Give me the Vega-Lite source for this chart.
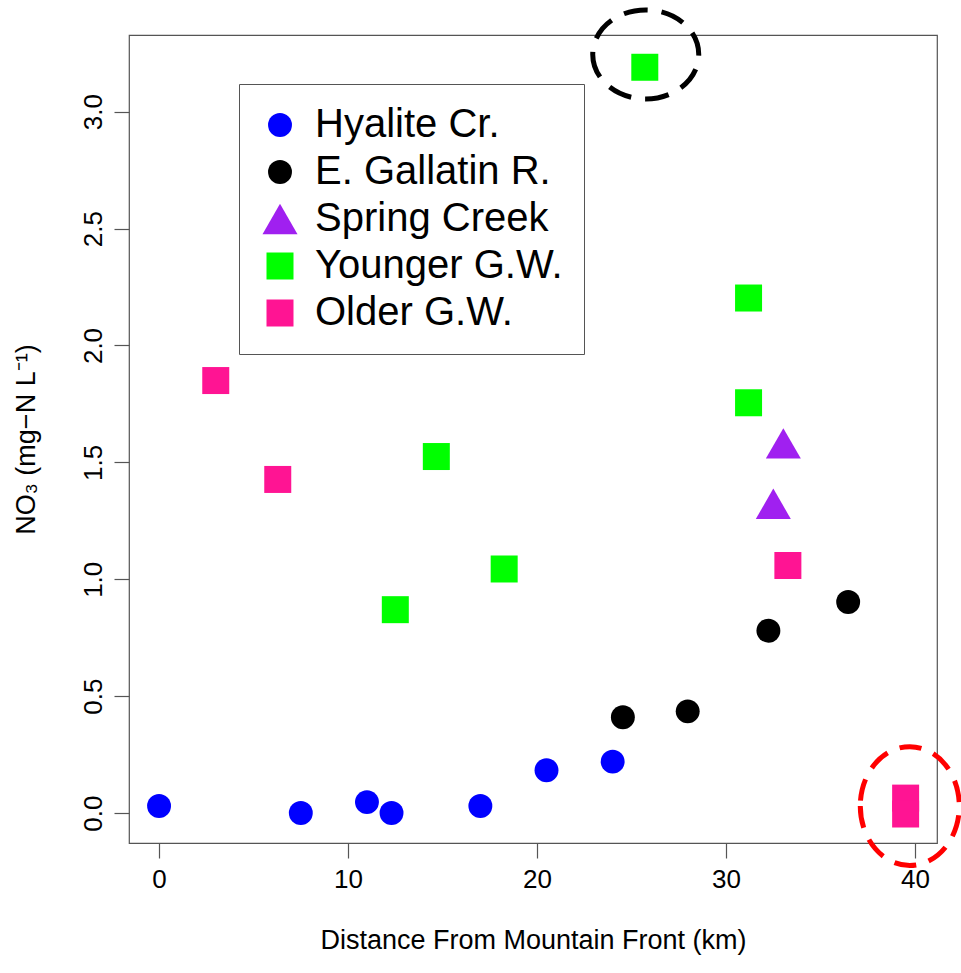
{
  "$schema": "https://vega.github.io/schema/vega-lite/v6.json",
  "width": 808,
  "height": 808,
  "autosize": {"type": "none"},
  "padding": {"left": 129, "top": 35, "right": 24, "bottom": 130},
  "background": "white",
  "config": {
    "view": {"stroke": "#555", "strokeWidth": 1.2},
    "font": "Liberation Sans"
  },
  "layer": [
    {
      "data": {
        "values": [
          {"site": "Hyalite Cr.", "distance_km": 0.0, "no3": 0.03},
          {"site": "Hyalite Cr.", "distance_km": 7.5, "no3": 0.0},
          {"site": "Hyalite Cr.", "distance_km": 11.0, "no3": 0.047},
          {"site": "Hyalite Cr.", "distance_km": 12.3, "no3": 0.0},
          {"site": "Hyalite Cr.", "distance_km": 17.0, "no3": 0.03},
          {"site": "Hyalite Cr.", "distance_km": 20.5, "no3": 0.183},
          {"site": "Hyalite Cr.", "distance_km": 24.0, "no3": 0.22},
          {"site": "E. Gallatin R.", "distance_km": 24.54, "no3": 0.41},
          {"site": "E. Gallatin R.", "distance_km": 27.97, "no3": 0.435},
          {"site": "E. Gallatin R.", "distance_km": 32.24, "no3": 0.78},
          {"site": "E. Gallatin R.", "distance_km": 36.46, "no3": 0.903},
          {"site": "Spring Creek", "distance_km": 33.03, "no3": 1.581},
          {"site": "Spring Creek", "distance_km": 32.5, "no3": 1.323},
          {"site": "Younger G.W.", "distance_km": 25.7, "no3": 3.19},
          {"site": "Younger G.W.", "distance_km": 12.5, "no3": 0.87},
          {"site": "Younger G.W.", "distance_km": 14.67, "no3": 1.525},
          {"site": "Younger G.W.", "distance_km": 18.26, "no3": 1.044},
          {"site": "Younger G.W.", "distance_km": 31.19, "no3": 2.203},
          {"site": "Younger G.W.", "distance_km": 31.19, "no3": 1.755},
          {"site": "Older G.W.", "distance_km": 3.0, "no3": 1.85},
          {"site": "Older G.W.", "distance_km": 6.28, "no3": 1.427},
          {"site": "Older G.W.", "distance_km": 33.27, "no3": 1.059},
          {"site": "Older G.W.", "distance_km": 39.5, "no3": 0.064},
          {"site": "Older G.W.", "distance_km": 39.5, "no3": -0.004}
        ]
      },
      "mark": {"type": "point", "filled": true, "opacity": 1, "strokeWidth": 0},
      "encoding": {
        "x": {
          "field": "distance_km",
          "type": "quantitative",
          "scale": {"domain": [-1.59, 41.16], "nice": false, "zero": false},
          "axis": {
            "values": [0, 10, 20, 30, 40],
            "title": "Distance From Mountain Front (km)",
            "domain": false,
            "grid": false,
            "tickSize": 15,
            "tickColor": "#555",
            "tickWidth": 1.2,
            "labelFontSize": 26,
            "labelColor": "black",
            "labelPadding": 8,
            "titleFontSize": 27,
            "titleFontWeight": "normal",
            "titleColor": "black",
            "titlePadding": 35
          }
        },
        "y": {
          "field": "no3",
          "type": "quantitative",
          "scale": {"domain": [-0.128, 3.328], "nice": false, "zero": false},
          "axis": {
            "values": [0, 0.5, 1, 1.5, 2, 2.5, 3],
            "format": ".1f",
            "title": "NO₃ (mg−N L⁻¹)",
            "domain": false,
            "grid": false,
            "tickSize": 15,
            "tickColor": "#555",
            "tickWidth": 1.2,
            "labelFontSize": 26,
            "labelColor": "black",
            "labelAngle": -90,
            "labelAlign": "center",
            "labelBaseline": "alphabetic",
            "labelPadding": 13,
            "titleFontSize": 27,
            "titleFontWeight": "normal",
            "titleColor": "black",
            "titlePadding": 40
          }
        },
        "color": {
          "field": "site",
          "type": "nominal",
          "scale": {
            "domain": ["Hyalite Cr.", "E. Gallatin R.", "Spring Creek", "Younger G.W.", "Older G.W."],
            "range": ["#0000FF", "#000000", "#A020F0", "#00FF00", "#FF1493"]
          },
          "legend": {
            "title": null,
            "orient": "none",
            "legendX": 110,
            "legendY": 49,
            "labelFontSize": 40,
            "labelFont": "Liberation Sans",
            "labelColor": "black",
            "labelLimit": 500,
            "strokeColor": "#555",
            "fillColor": "white",
            "padding": 21,
            "rowPadding": 7,
            "labelOffset": 15,
            "symbolStrokeWidth": 0,
            "symbolOpacity": 1,
            "encode": {
              "symbols": {
                "update": {
                  "size": {"signal": "datum.value === 'Spring Creek' ? 1600 : (datum.value === 'Younger G.W.' || datum.value === 'Older G.W.') ? 900 : 707"}
                }
              }
            }
          }
        },
        "shape": {
          "field": "site",
          "type": "nominal",
          "scale": {
            "domain": ["Hyalite Cr.", "E. Gallatin R.", "Spring Creek", "Younger G.W.", "Older G.W."],
            "range": ["circle", "circle", "triangle-up", "square", "square"]
          }
        },
        "size": {
          "field": "site",
          "type": "nominal",
          "scale": {
            "type": "ordinal",
            "domain": ["Hyalite Cr.", "E. Gallatin R.", "Spring Creek", "Younger G.W.", "Older G.W."],
            "range": [572, 572, 1225, 729, 729]
          },
          "legend": null
        }
      }
    },
    {
      "data": {"values": [{"note": "highlight", "distance_km": 25.75, "no3": 3.245}]},
      "mark": {
        "type": "point",
        "filled": false,
        "shape": "M -1 0 A 1 0.84 0 1 0 1 0 A 1 0.84 0 1 0 -1 0 Z",
        "size": 11236,
        "stroke": "black",
        "strokeWidth": 5,
        "strokeDash": [24, 14],
        "opacity": 1
      },
      "encoding": {
        "x": {"field": "distance_km", "type": "quantitative"},
        "y": {"field": "no3", "type": "quantitative"}
      }
    },
    {
      "data": {"values": [{"note": "highlight", "distance_km": 39.72, "no3": 0.03}]},
      "mark": {
        "type": "point",
        "filled": false,
        "shape": "M -1 0 A 1 1.2 0 1 0 1 0 A 1 1.2 0 1 0 -1 0 Z",
        "size": 9801,
        "stroke": "#FF0000",
        "strokeWidth": 5,
        "strokeDash": [22, 13],
        "opacity": 1
      },
      "encoding": {
        "x": {"field": "distance_km", "type": "quantitative"},
        "y": {"field": "no3", "type": "quantitative"}
      }
    }
  ]
}
